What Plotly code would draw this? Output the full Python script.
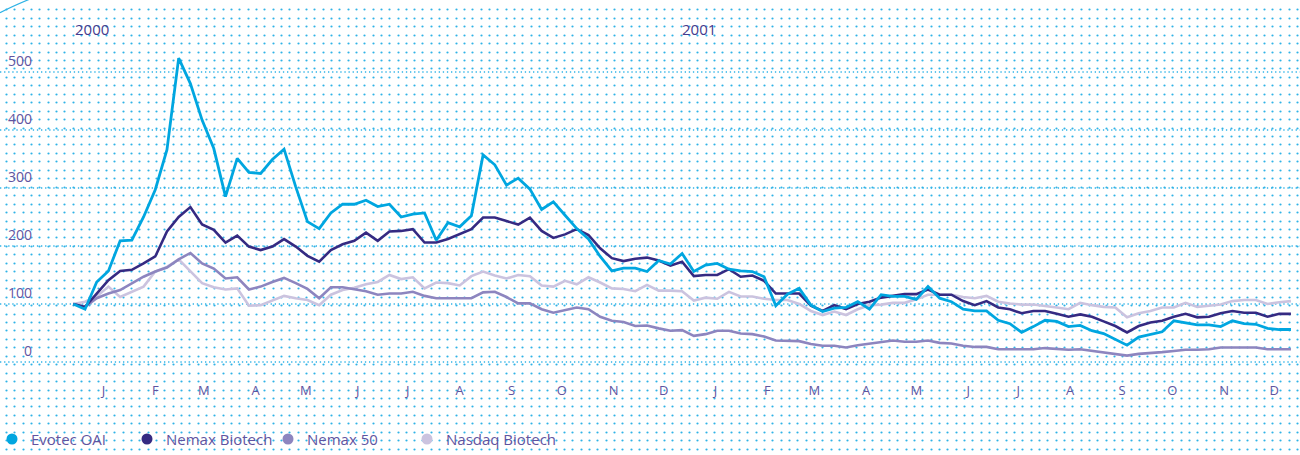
import numpy as np
import pandas as pd
import plotly.graph_objects as go

# Wochenwerte, indexiert (Start = 100), Ende Dez 1999 bis Ende Dez 2001
evotec = [100, 91, 138, 157, 209, 210, 250, 297, 366, 524, 480, 417, 368, 285, 351, 327, 325, 349, 367, 302, 242, 230,
          257, 272, 272, 279, 268, 272, 250, 255, 257, 210, 240, 233, 252, 357, 340, 305, 317, 298, 263, 276,
          253, 230, 212, 182, 157, 162, 162, 156, 175, 169, 187, 156, 167, 170, 160, 157, 156, 147, 97, 117, 127,
          98, 87, 93, 94, 104, 91, 116, 113, 113, 108, 130, 110, 104, 91, 88, 88, 72, 66, 51, 61,
          72, 70, 61, 63, 54, 49, 39, 29, 43, 48, 52, 71, 67, 64, 64, 61, 71, 66, 65, 58, 56, 56]
nemax_biotech = [100, 95, 118, 141, 157, 159, 170, 182, 225, 250, 267, 237, 228, 206, 218, 199, 193, 199, 212, 199, 183, 173,
                 193, 203, 209, 223, 209, 225, 226, 229, 206, 206, 212, 220, 229, 249, 249, 243, 237, 249, 226, 214,
                 220, 229, 219, 196, 179, 174, 178, 180, 175, 166, 173, 148, 150, 150, 160, 147, 149, 140, 118, 118, 118,
                 97, 88, 98, 91, 100, 104, 111, 114, 117, 117, 125, 116, 116, 105, 98, 105, 94, 91, 84, 88,
                 88, 83, 78, 82, 78, 70, 62, 51, 62, 68, 71, 78, 83, 77, 78, 84, 88, 85, 85, 78, 83, 83]
nemax_50 = [100, 95, 110, 118, 124, 136, 147, 156, 163, 177, 188, 170, 161, 144, 146, 125, 130, 138, 145, 136, 126, 110,
            129, 129, 125, 122, 116, 118, 118, 121, 114, 110, 110, 110, 110, 120, 121, 112, 101, 101, 91, 85,
            90, 94, 91, 78, 71, 69, 62, 63, 58, 54, 55, 45, 48, 54, 54, 49, 48, 44, 37, 36, 36,
            31, 28, 28, 25, 29, 32, 35, 37, 35, 35, 37, 33, 32, 28, 26, 26, 22, 22, 21, 22,
            24, 22, 21, 22, 19, 17, 14, 11, 14, 15, 17, 19, 21, 21, 22, 25, 25, 25, 25, 22, 22, 22]
nasdaq_biotech = [100, 104, 113, 130, 112, 121, 130, 156, 164, 177, 156, 136, 129, 125, 127, 97, 98, 106, 114, 110, 107, 98,
                  116, 124, 128, 134, 138, 150, 143, 146, 127, 137, 136, 132, 148, 156, 149, 144, 150, 148, 132, 130,
                  140, 134, 146, 137, 127, 126, 122, 133, 123, 123, 122, 106, 111, 109, 121, 113, 113, 109, 107, 107, 100,
                  88, 81, 87, 81, 91, 98, 99, 102, 102, 108, 116, 116, 116, 112, 110, 114, 104, 101, 99, 99,
                  97, 94, 91, 102, 98, 95, 94, 77, 84, 88, 94, 94, 102, 95, 97, 99, 105, 107, 107, 100, 103, 105]

month_labels = ["J", "F", "M", "A", "M", "J", "J", "A", "S", "O", "N", "D"] * 2
year_labels = ["2000", "2001"]
y_ticks = [0, 100, 200, 300, 400, 500]

series = [
    ("Evotec OAI", evotec, "#00a6e0", 2.8),
    ("Nemax Biotech", nemax_biotech, "#352a82", 2.6),
    ("Nemax 50", nemax_50, "#8d85bf", 2.6),
    ("Nasdaq Biotech", nasdaq_biotech, "#cbc3df", 2.6),
]

W, H = 1300, 455
TXT = "#5f54a0"
DOT = "#2fb3e6"
FONT = "Open Sans"
LEGEND_X = [12, 147, 288, 427]   # Pixelpositionen der Legendenpunkte
LEGEND_Y = 439

dates = pd.date_range("1999-12-31", periods=len(evotec), freq="7D")
month_ticks = pd.date_range("2000-01-01", periods=24, freq="MS") + pd.Timedelta(days=17)

fig = go.Figure()

# Punktraster im Hintergrund (Pixelkoordinaten, auf ganze Pixel gerundet)
gx, gy = np.meshgrid(np.round(np.arange(6, W, 8.33)) + 0.5, np.round(np.arange(9.3, H, 8.45)) + 0.5)
fig.add_trace(go.Scatter(
    x=gx.ravel(), y=gy.ravel(), mode="markers", xaxis="x", yaxis="y",
    marker=dict(size=2.2, color=DOT, line=dict(width=0)),
    hoverinfo="skip", showlegend=False,
))

# Legende: Kreise + Beschriftung
fig.add_trace(go.Scatter(
    x=LEGEND_X, y=[LEGEND_Y] * len(series), mode="markers", xaxis="x", yaxis="y",
    marker=dict(size=11, color=[s[2] for s in series], line=dict(width=0)),
    hoverinfo="skip", showlegend=False,
))
for (name, _, _, _), lx in zip(series, LEGEND_X):
    fig.add_annotation(x=lx + 17, y=LEGEND_Y, xref="x", yref="y", text=name, showarrow=False,
                       xanchor="left", yanchor="middle",
                       font=dict(family=FONT, size=15, color=TXT))

# Linien: Reihenfolge so, dass Evotec oben liegt
for name, vals, color, lw in reversed(series):
    fig.add_trace(go.Scatter(
        x=dates, y=vals, mode="lines", name=name, xaxis="x2", yaxis="y2",
        line=dict(color=color, width=lw), showlegend=False,
    ))

# gepunktete Gitterlinien ueber die volle Breite
for v in y_ticks:
    fig.add_shape(type="line", xref="paper", x0=0, x1=1, yref="y2", y0=v, y1=v,
                  line=dict(color=DOT, width=1.3, dash="1.3px,2.8px"), layer="below")

# Jahreszahlen
for lbl, d in zip(year_labels, ["1999-12-31", "2000-12-28"]):
    fig.add_annotation(x=d, y=29, xref="x2", yref="y", text=lbl, showarrow=False,
                       xanchor="left", yanchor="middle",
                       font=dict(family=FONT, size=15, color="#463a8c"))

# Bogen oben links
fig.add_shape(type="path", xref="paper", yref="paper",
              path="M 0,0.972 Q 0.012,0.99 0.03,1.01",
              line=dict(color=DOT, width=1.2))

fig.update_layout(
    width=W, height=H,
    margin=dict(l=0, r=0, t=0, b=0, autoexpand=False),
    paper_bgcolor="white", plot_bgcolor="rgba(0,0,0,0)",
    font=dict(family=FONT, color=TXT),
    showlegend=False,
    xaxis=dict(domain=[0, 1], range=[0, W], visible=False, fixedrange=True, automargin=False),
    yaxis=dict(domain=[0, 1], range=[H, 0], visible=False, fixedrange=True, automargin=False),
    xaxis2=dict(domain=[33 / W, 1], anchor="y2", type="date", automargin=False,
                range=["1999-12-06 21:36", "2002-01-02 10:00"],
                tickvals=month_ticks, ticktext=month_labels,
                showgrid=False, zeroline=False, showline=False, ticks="",
                ticklabelstandoff=3,
                tickfont=dict(family=FONT, size=13, color=TXT)),
    yaxis2=dict(domain=[0.1692, 1], anchor="x2", range=[-27.6, 624.1], automargin=False,
                tickvals=y_ticks, showgrid=False, zeroline=False, showline=False,
                ticks="", ticklabelshift=-11,
                tickfont=dict(family=FONT, size=14, color=TXT)),
)

fig.write_html("out.html", config={"displayModeBar": False},
               post_script="document.body.style.margin='0';")
